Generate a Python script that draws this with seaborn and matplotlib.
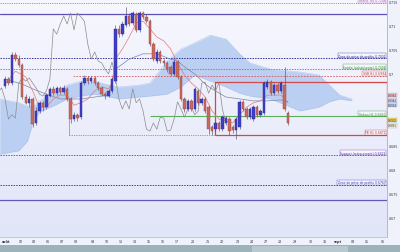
import numpy as np
import matplotlib
matplotlib.use("Agg")
import matplotlib.pyplot as plt
from matplotlib.colors import LinearSegmentedColormap
from matplotlib.patches import Rectangle
import seaborn as sns

sns.set_style("white")
plt.rcParams['font.family'] = ['DejaVu Sans']

# ---------------- data ----------------
opens = [0.6973, 0.6987, 0.6979, 0.7038, 0.7029, 0.7017, 0.6950, 0.6938, 0.6946, 0.6896,
         0.6921, 0.6938, 0.6929, 0.6952, 0.6967, 0.6958, 0.6969, 0.6960, 0.6967, 0.6946,
         0.6904, 0.6913, 0.6908, 0.6979, 0.6990, 0.6983, 0.6990, 0.6979, 0.6969, 0.6956,
         0.6952, 0.6963, 0.6983, 0.7092, 0.7081, 0.7100, 0.7119, 0.7104, 0.7123, 0.7090,
         0.7125, 0.7117, 0.7108, 0.7060, 0.7025, 0.7044, 0.7025, 0.7021, 0.7013, 0.6998,
         0.7023, 0.6992, 0.6946, 0.6925, 0.6942, 0.6925, 0.6963, 0.6938, 0.6946, 0.6929,
         0.6888, 0.6883, 0.6896, 0.6883, 0.6896, 0.6904, 0.6888, 0.6881, 0.6888, 0.6940,
         0.6925, 0.6908, 0.6904, 0.6929, 0.6913, 0.6917, 0.6971, 0.6981, 0.6958, 0.6975,
         0.6963, 0.6975, 0.6917]
closes = [0.6987, 0.6979, 0.7038, 0.7029, 0.7017, 0.6950, 0.6938, 0.6946, 0.6894, 0.6921,
          0.6938, 0.6929, 0.6954, 0.6967, 0.6958, 0.6969, 0.6960, 0.6969, 0.6946, 0.6904,
          0.6913, 0.6906, 0.6979, 0.6990, 0.6983, 0.6990, 0.6979, 0.6969, 0.6956, 0.6952,
          0.6963, 0.6987, 0.7092, 0.7081, 0.7102, 0.7119, 0.7102, 0.7125, 0.7090, 0.7125,
          0.7117, 0.7108, 0.7060, 0.7029, 0.7044, 0.7025, 0.7021, 0.7008, 0.6998, 0.7023,
          0.6992, 0.6946, 0.6925, 0.6942, 0.6925, 0.6967, 0.6938, 0.6946, 0.6921, 0.6883,
          0.6879, 0.6896, 0.6883, 0.6908, 0.6906, 0.6879, 0.6881, 0.6904, 0.6940, 0.6925,
          0.6908, 0.6925, 0.6929, 0.6913, 0.6921, 0.6979, 0.6981, 0.6958, 0.6975, 0.6963,
          0.6979, 0.6925, 0.6896]
highs = [0.6994, 0.6992, 0.7044, 0.7044, 0.7038, 0.7021, 0.6956, 0.6952, 0.6950, 0.6929,
         0.6942, 0.6942, 0.6958, 0.6971, 0.6973, 0.6973, 0.6973, 0.6975, 0.6971, 0.6950,
         0.6919, 0.6917, 0.6983, 0.6996, 0.6994, 0.6994, 0.6994, 0.6983, 0.6973, 0.6960,
         0.6967, 0.6992, 0.7100, 0.7100, 0.7108, 0.7138, 0.7125, 0.7129, 0.7127, 0.7129,
         0.7129, 0.7123, 0.7112, 0.7065, 0.7050, 0.7048, 0.7029, 0.7025, 0.7017, 0.7029,
         0.7027, 0.6996, 0.6950, 0.6946, 0.6946, 0.6971, 0.6967, 0.6950, 0.6950, 0.6933,
         0.6892, 0.6900, 0.6900, 0.6913, 0.6910, 0.6908, 0.6892, 0.6908, 0.6944, 0.6944,
         0.6929, 0.6929, 0.6933, 0.6933, 0.6925, 0.6983, 0.6987, 0.6985, 0.6979, 0.6979,
         0.6983, 0.7013, 0.6921]
lows = [0.6969, 0.6975, 0.6975, 0.7025, 0.7013, 0.6946, 0.6935, 0.6929, 0.6888, 0.6892,
        0.6917, 0.6921, 0.6925, 0.6950, 0.6954, 0.6954, 0.6956, 0.6956, 0.6942, 0.6896,
        0.6900, 0.6900, 0.6904, 0.6975, 0.6977, 0.6979, 0.6975, 0.6965, 0.6952, 0.6946,
        0.6950, 0.6958, 0.6979, 0.7075, 0.7077, 0.7096, 0.7098, 0.7100, 0.7086, 0.7086,
        0.7113, 0.7104, 0.7056, 0.7025, 0.7021, 0.7021, 0.7015, 0.7002, 0.6994, 0.6994,
        0.6987, 0.6942, 0.6919, 0.6921, 0.6921, 0.6921, 0.6933, 0.6933, 0.6917, 0.6873,
        0.6871, 0.6877, 0.6879, 0.6879, 0.6892, 0.6871, 0.6875, 0.6862, 0.6883, 0.6921,
        0.6904, 0.6904, 0.6900, 0.6908, 0.6908, 0.6913, 0.6967, 0.6954, 0.6954, 0.6958,
        0.6958, 0.6921, 0.6892]

tenkan_idx = [0, 3, 6, 8, 10, 12, 14, 16, 18, 20, 22, 24, 26, 28, 30, 31, 32, 34, 36, 38, 40,
              42, 44, 46, 48, 50, 52, 54, 56, 58, 60, 62, 64, 66, 68, 70, 72, 74, 76, 78, 80, 82]
tenkan = [0.6977, 0.7004, 0.6992, 0.6963, 0.6929, 0.6929, 0.6946, 0.6954, 0.6954, 0.6933,
          0.6938, 0.6946, 0.6963, 0.6971, 0.6967, 0.6979, 0.7029, 0.7050, 0.7075, 0.7104,
          0.7108, 0.7092, 0.7075, 0.7067, 0.7050, 0.7021, 0.6996, 0.6979, 0.6967, 0.6950,
          0.6921, 0.6904, 0.6900, 0.6896, 0.6913, 0.6929, 0.6938, 0.6942, 0.6954, 0.6954,
          0.6954, 0.6938]

kijun_idx = [0, 5, 8, 12, 16, 22, 26, 30, 32, 36, 40, 44, 48, 50, 52, 55, 58, 60, 64, 68,
             72, 76, 80, 82]
kijun = [0.6987, 0.6977, 0.6967, 0.6956, 0.6946, 0.6946, 0.6950, 0.6954, 0.7008, 0.7029,
         0.7040, 0.7040, 0.7029, 0.7025, 0.7013, 0.6998, 0.6977, 0.6967, 0.6950, 0.6946,
         0.6942, 0.6942, 0.6944, 0.6940]

cloud_idx = [-1.5, 4, 6.5, 8, 10, 14.5, 18, 22, 26, 29, 33, 39, 42, 47, 51, 55, 59.5, 64,
             68, 71, 77, 85.5, 91, 94, 97, 100.5]
senkou_a = [0.6946, 0.6938, 0.6931, 0.6929, 0.6942, 0.6960, 0.6975, 0.6983, 0.6983, 0.6977,
            0.6971, 0.6975, 0.6979, 0.7025, 0.7050, 0.7063, 0.7079, 0.7071, 0.7040, 0.7021,
            0.7008, 0.7002, 0.6996, 0.6975, 0.6954, 0.6946]
senkou_b = [0.6831, 0.6838, 0.6858, 0.6894, 0.6919, 0.6933, 0.6946, 0.6952, 0.6956, 0.6952,
            0.6946, 0.6950, 0.6952, 0.6956, 0.6971, 0.6996, 0.6983, 0.6971, 0.6958, 0.6952,
            0.6946, 0.6921, 0.6929, 0.6940, 0.6946, 0.6942]

level_values = [0.7146, 0.7123, 0.7031, 0.7008, 0.6994, 0.6981, 0.6910, 0.6871, 0.6829, 0.6767, 0.6735]
level_labels = ["Résist. H4 0.7146", "", "Zone de prise de profits 0.7031",
                "Entrée (achat/vente) 0.7008", "SSB H1 0.6994", "", "Tenkan H1 0.6910",
                "PB H1 0.6871", "Support (retracement) 0.6829",
                "Zone de prise de profits 0.6767", ""]

axis_box_values = [0.6954, 0.6944, 0.6934, 0.6902, 0.6891]
axis_box_labels = ["0.6954", "0.6944", "0.6934", "0.6902", "0.6891"]

# 0.695 and 0.69 are hidden behind the price boxes in the reference
y_ticks = [0.67, 0.675, 0.68, 0.685, 0.69, 0.695, 0.70, 0.705, 0.71, 0.715]
y_tick_labels = ["0.67", "0.675", "0.68", "0.685", "", "", "0.7", "0.705", "0.71", "0.715"]
x_tick_labels = ["août", "02", "03", "06", "07", "08", "09", "10", "13", "14", "15", "16", "17",
                 "20", "21", "22", "23", "24", "27", "28", "29", "30", "31", "sept", "04", "05", "06"]

# ---------------- layout constants ----------------
x_tick_pos = [0.3, 4.6, 8.4, 12.5, 16.5, 20.6, 25.5, 29.6, 33.6, 37.7, 41.7, 45.8, 49.9,
              54.5, 58.8, 62.9, 67.5, 71.6, 75.7, 79.7, 84.1, 88.7, 92.8, 96.5, 100.9, 104.9, 109.6]
XMIN, XMAX = -1.45, 110.7
YMIN, YMAX = 0.66584, 0.71542
CHIKOU_SHIFT = 18

fig = plt.figure(figsize=(4.0, 2.53), dpi=100)
fig.patch.set_facecolor('#eff1fb')
ax = fig.add_axes([0, 15 / 253, 387 / 400, 238 / 253])
ax.set_xlim(XMIN, XMAX)
ax.set_ylim(YMIN, YMAX)

# background gradient
cmap_bg = LinearSegmentedColormap.from_list('bg', ['#f7f7fe', '#e1e5f8'])
ax.imshow(np.linspace(0, 1, 256).reshape(-1, 1), extent=[XMIN, XMAX, YMIN, YMAX],
          aspect='auto', cmap=cmap_bg, origin='upper', zorder=0)

# cloud
ax.fill_between(cloud_idx, senkou_a, senkou_b, color='#b3caf1', alpha=0.85, lw=0, zorder=1)
ax.plot(cloud_idx, senkou_a, color='#a8c0ec', lw=0.3, zorder=1)
ax.plot(cloud_idx, senkou_b, color='#a8c0ec', lw=0.3, zorder=1)

# level lines
full = dict(zorder=2)
ax.axhline(level_values[0], color='#c070c0', ls=(0, (1.5, 1.2)), lw=0.6, **full)
ax.axhline(level_values[1], color='#5a50b8', lw=0.9, **full)
ax.axhline(level_values[2], color='#34349a', ls=(0, (1.5, 1.2)), lw=0.7, **full)
ax.axhline(level_values[3], color='#4fb04f', ls=(0, (1.5, 1.2)), lw=0.7, **full)
ax.hlines(level_values[4], 19.7, XMAX, color='#d05a5a', ls=(0, (2, 1.5)), lw=0.6, **full)
ax.add_patch(Rectangle((60.9, level_values[7]), XMAX - 60.9, level_values[5] - level_values[7],
                       fill=False, ec='#d04848', lw=0.9, zorder=2))
ax.hlines(level_values[6], 42.0, XMAX, color='#5ab05a', lw=0.8, **full)
ax.hlines(level_values[7], 18.55, 60.9, color='#d07878', ls=(0, (1.5, 1.2)), lw=0.6, **full)
ax.vlines(18.55, level_values[7], 0.6935, color='#8a8a8a', lw=0.5, zorder=2)
ax.axhline(level_values[8], color='#8050b0', ls=(0, (1.5, 1.2)), lw=0.7, **full)
ax.axhline(level_values[9], color='#4040b0', ls=(0, (1.5, 1.2)), lw=0.7, **full)
ax.axhline(level_values[10], color='#6058c0', lw=0.9, **full)

# ichimoku lines
idx = np.arange(len(opens))
sns.lineplot(x=idx - CHIKOU_SHIFT, y=closes, ax=ax, color='#8c8c8c', lw=0.5, zorder=3)
sns.lineplot(x=kijun_idx, y=kijun, ax=ax, color='#7d86a8', lw=0.5, zorder=3)
sns.lineplot(x=tenkan_idx, y=tenkan, ax=ax, color='#e07a7a', lw=0.5, zorder=3)

# candles
o = np.array(opens); c = np.array(closes); h = np.array(highs); l = np.array(lows)
up = c >= o
ax.vlines(idx, l, h, color='#55556e', lw=0.45, zorder=4)
ax.bar(idx[up], (c - o)[up], bottom=o[up], width=0.7, color='#3e3ec6',
       edgecolor='#2b2b92', lw=0.3, zorder=5)
ax.bar(idx[~up], (o - c)[~up], bottom=c[~up], width=0.7, color='#c96a60',
       edgecolor='#9c4038', lw=0.3, zorder=5)

# level labels
label_colors = ['#b050b0', None, '#30309a', '#3a963a', '#c03838', None, '#3a963a',
                '#c03838', '#7040b0', '#3434b4', None]
ytr = ax.get_yaxis_transform()
for v, txt, col in zip(level_values, level_labels, label_colors):
    if txt:
        ax.text(0.997, v + 0.00012, txt, transform=ytr, ha='right', va='bottom',
                fontsize=2.2, color=col, zorder=6,
                bbox=dict(boxstyle='square,pad=0.2', fc='#f5f5fd', ec=col, lw=0.25))

# price axis boxes
box_colors = ['#f2c4cc', '#d9ddf2', '#c6d0f2', '#f1d558', '#efefd8']
for v, txt, col in zip(axis_box_values, axis_box_labels, box_colors):
    ax.text(1.003, v, txt, transform=ytr, ha='left', va='center', fontsize=1.9,
            color='#333333', clip_on=False, zorder=7,
            bbox=dict(boxstyle='square,pad=0.1', fc=col, ec='#9a9ab0', lw=0.2))

# axes styling
ax.yaxis.tick_right()
ax.set_yticks(y_ticks)
ax.set_yticklabels(y_tick_labels, fontsize=2.3, color='#333344')
ax.set_xticks(x_tick_pos)
ax.set_xticklabels(x_tick_labels, fontsize=2.3, color='#333344')
for t in ax.get_xticklabels():
    if t.get_text() in ("août", "sept"):
        t.set_fontweight('bold')
ax.tick_params(axis='both', length=0, pad=1.5)
for s in ('top', 'left'):
    ax.spines[s].set_visible(False)
ax.spines['right'].set_color('#a9b0cc')
ax.spines['right'].set_linewidth(0.6)
ax.spines['bottom'].set_color('#b9c0da')
ax.spines['bottom'].set_linewidth(0.6)
ax.grid(False)
ax.set_xlabel('')
ax.set_ylabel('')

# bottom scroll bar
fig.patches.append(Rectangle((0, 0), 1, 7 / 253, transform=fig.transFigure,
                             fc='#9cb3bb', ec='none', zorder=0))
fig.patches.append(Rectangle((252 / 400, 0.5 / 253), 96 / 400, 6 / 253, transform=fig.transFigure,
                             fc='#b7c8ce', ec='none', zorder=1))

fig.savefig('out.png', dpi=100, facecolor=fig.get_facecolor())
